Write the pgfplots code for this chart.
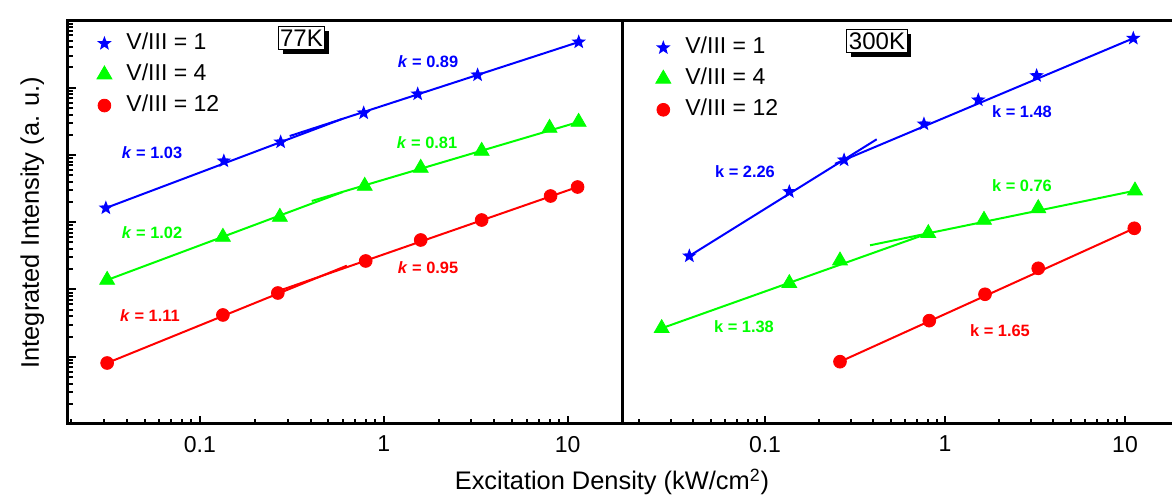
\documentclass[border=0pt]{standalone}
\usepackage{fontspec}
\setmainfont{Liberation Sans}
\usepackage{pgfplots}
\pgfplotsset{compat=1.18}
\usetikzlibrary{shadows}
\definecolor{cb}{RGB}{0,0,255}
\definecolor{cg}{RGB}{0,255,0}
\definecolor{cr}{RGB}{255,0,0}
\pgfdeclareplotmark{fstar}{%
  \pgfpathmoveto{\pgfpointpolar{90}{\pgfplotmarksize}}%
  \pgfpathlineto{\pgfpointpolar{126}{0.42\pgfplotmarksize}}%
  \pgfpathlineto{\pgfpointpolar{162}{\pgfplotmarksize}}%
  \pgfpathlineto{\pgfpointpolar{198}{0.42\pgfplotmarksize}}%
  \pgfpathlineto{\pgfpointpolar{234}{\pgfplotmarksize}}%
  \pgfpathlineto{\pgfpointpolar{270}{0.42\pgfplotmarksize}}%
  \pgfpathlineto{\pgfpointpolar{306}{\pgfplotmarksize}}%
  \pgfpathlineto{\pgfpointpolar{342}{0.42\pgfplotmarksize}}%
  \pgfpathlineto{\pgfpointpolar{18}{\pgfplotmarksize}}%
  \pgfpathlineto{\pgfpointpolar{54}{0.42\pgfplotmarksize}}%
  \pgfpathclose\pgfusepathqfill}
\pgfplotsset{
  panel/.style={
    scale only axis, height=201.75pt,
    ymin=1, ymax=1e6,
    axis line style={line width=1.5pt},
    tick style={line width=1pt, black},
    tick align=inside,
    xtick pos=left, ytick pos=left,
    xtick={0.1,1,10}, xticklabels={0.1,1,10},
    minor xtick={0.02,0.03,0.04,0.05,0.06,0.07,0.08,0.09,0.2,0.3,0.4,0.5,0.6,0.7,0.8,0.9,2,3,4,5,6,7,8,9},
    major tick length=4pt, minor tick length=2.3pt,
    xticklabel style={font=\fontsize{11.5}{13}\selectfont, yshift=-2.5pt},
    /pgf/number format/assume math mode=true,
    legend cell align=left,
    legend image code/.code={\path[draw=none,fill=none] (0cm,0cm) rectangle (0.535cm,0cm);\draw[##1] plot coordinates {(0.2cm,0cm)};},
    legend style={draw=none, fill=none, anchor=north west, inner xsep=0pt, inner ysep=0pt,
      row sep=1.5pt, font=\fontsize{11.5}{13}\selectfont,
      nodes={inner sep=1.5pt, text height=8.5pt, text depth=2.5pt}},
  },
  bstar/.style={only marks, mark=fstar, mark size=3.8pt, color=cb},
  gtri/.style={only marks, mark=triangle*, mark size=4.3pt, color=cg},
  rdot/.style={only marks, mark=*, mark size=3.2pt, color=cr},
  fitb/.style={cb, line width=1pt, no marks, forget plot},
  fitg/.style={cg, line width=1pt, no marks, forget plot},
  fitr/.style={cr, line width=1pt, no marks, forget plot},
}
\begin{document}
\begin{tikzpicture}
\path[use as bounding box] (-34pt,-36pt) rectangle (552.5pt,212pt);

% ---------- 77 K ----------
\begin{loglogaxis}[panel, at={(0pt,0pt)}, anchor=south west, width=277pt,
  xmin=0.01917, xmax=19.77,
  ytick={1,10,100,1000,10000,100000,1000000}, yticklabels={},
  minor ytick={2,3,4,5,6,7,8,9,20,30,40,50,60,70,80,90,200,300,400,500,600,700,800,900,2000,3000,4000,5000,6000,7000,8000,9000,20000,30000,40000,50000,60000,70000,80000,90000,200000,300000,400000,500000,600000,700000,800000,900000},
  legend style={at={(0.0445,0.9785)}}]
\addplot[fitb] coordinates {(0.0308,1629) (0.598,34600)};
\addplot[fitb] coordinates {(0.308,19140) (11.5,478600)};
\addplot[fitg] coordinates {(0.0313,138.4) (0.598,2812)};
\addplot[fitg] coordinates {(0.406,2070) (11.48,30970)};
\addplot[fitr] coordinates {(0.0313,8.07) (0.630,226)};
\addplot[fitr] coordinates {(0.2655,94.4) (11.33,3342)};
\addplot[bstar] coordinates {(0.0308,1629) (0.135,8147) (0.275,15600) (0.778,42170) (1.53,80720) (3.24,154900) (11.5,478600)};
\addlegendentry{V/III = 1}
\addplot[gtri] coordinates {(0.0313,138.4) (0.1334,603.9) (0.2723,1197) (0.788,3459) (1.589,6412) (3.409,11460) (7.98,25180) (11.48,30970)};
\addlegendentry{V/III = 4}
\addplot[rdot] coordinates {(0.0313,8.07) (0.1334,41.8) (0.2654,88.7) (0.798,265.5) (1.589,544.5) (3.409,1079) (8.08,2455) (11.33,3342)};
\addlegendentry{V/III = 12}
\end{loglogaxis}

% ---------- 300 K ----------
\begin{loglogaxis}[panel, at={(277.35pt,0pt)}, anchor=south west, width=274.65pt,
  xmin=0.0162, xmax=18.24, ytick=\empty,
  separate axis lines, y axis line style={draw=none},
  legend style={at={(0.0525,0.968)}}]
\addplot[fitb] coordinates {(0.0380,315) (0.4175,17110)};
\addplot[fitb] coordinates {(0.2449,7396) (11.12,543300)};
\addplot[fitg] coordinates {(0.02667,26.5) (0.8077,685)};
\addplot[fitg] coordinates {(0.3833,454) (11.36,2945)};
\addplot[fitr] coordinates {(0.261,8.44) (11.26,812.9)};
\addplot[bstar] coordinates {(0.0380,315) (0.1365,2846) (0.275,8433) (0.764,28890) (1.531,65750) (3.228,151000) (11.12,543300)};
\addlegendentry{V/III = 1}
\addplot[gtri] coordinates {(0.02667,26.5) (0.1365,123.7) (0.261,268) (0.8077,685) (1.647,1080) (3.296,1611) (11.36,2945)};
\addlegendentry{V/III = 4}
\addplot[rdot] coordinates {(0.261,8.44) (0.818,34.4) (1.668,84.9) (3.296,206.6) (11.26,812.9)};
\addlegendentry{V/III = 12}
\end{loglogaxis}

% ---------- texts ----------
\begin{scope}[every node/.style={font=\fontsize{8.2}{10}\selectfont\bfseries}]
\node[cb] at (42pt,135.5pt) {\textit{k} = 1.03};
\node[cg] at (42pt,95.5pt) {\textit{k} = 1.02};
\node[cr] at (41pt,54pt) {\textit{k} = 1.11};
\node[cb] at (180pt,181pt) {\textit{k} = 0.89};
\node[cg] at (179.5pt,140.5pt) {\textit{k} = 0.81};
\node[cr] at (180pt,78.25pt) {\textit{k} = 0.95};
\node[cb] at (338.5pt,126pt) {k = 2.26};
\node[cb] at (477pt,156pt) {k = 1.48};
\node[cg] at (477pt,119pt) {k = 0.76};
\node[cg] at (338pt,48.5pt) {k = 1.38};
\node[cr] at (466pt,46.5pt) {k = 1.65};
\end{scope}

\node[draw=black, line width=0.5pt, fill=white, inner sep=1pt, minimum height=11.5pt,
  font=\fontsize{12}{14}\selectfont,
  drop shadow={shadow xshift=2.2pt, shadow yshift=-2.2pt, fill=black, opacity=1}]
  at (116.75pt,192.75pt) {77K};
\node[draw=black, line width=0.5pt, fill=white, inner sep=1pt, minimum height=11.5pt,
  font=\fontsize{12}{14}\selectfont,
  drop shadow={shadow xshift=2.2pt, shadow yshift=-2.2pt, fill=black, opacity=1}]
  at (404.5pt,191.5pt) {300K};

\node[rotate=90, anchor=base, font=\fontsize{12.7}{15}\selectfont] at (-14.6pt,100.75pt) {Integrated Intensity (a. u.)};
\node[anchor=base, font=\fontsize{12.7}{15}\selectfont] at (272pt,-33pt) {Excitation Density (kW/cm\textsuperscript{2})};
\end{tikzpicture}
\end{document}
